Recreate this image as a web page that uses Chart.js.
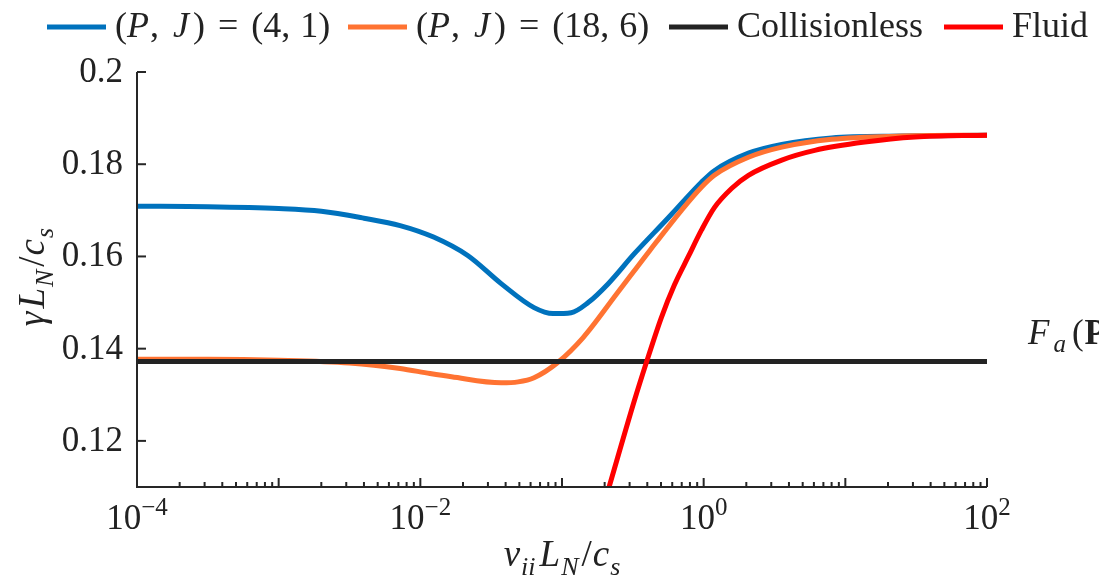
<!DOCTYPE html>
<html>
<head>
<meta charset="utf-8">
<script src="https://cdn.jsdelivr.net/npm/chart.js@4.4.1/dist/chart.umd.min.js"></script>
<style>
  html, body { margin: 0; padding: 0; background: #ffffff; overflow: hidden; }
  #wrap { width: 1099px; height: 583px; position: relative; }
</style>
</head>
<body>
<div id="wrap"><canvas id="growth" width="1099" height="583"></canvas></div>
<script>
// Normalised collision frequency nu_ii L_N / c_s and growth rate gamma L_N / c_s

// (P, J) = (4, 1)
const nuPJ41 = [1e-4, 3.16e-4, 1e-3, 2e-3, 4e-3, 7.2e-3, 0.0124, 0.0216, 0.0372, 0.0635, 0.0865, 0.116, 0.153, 0.212, 0.324, 0.563, 0.697, 0.964, 1.19, 2.07, 3.56, 8.0, 25, 100];
const gammaPJ41 = [0.1709, 0.1708, 0.1704, 0.1698, 0.1683, 0.1667, 0.1642, 0.1602, 0.1541, 0.1489, 0.1476, 0.1478, 0.1500, 0.1541, 0.1606, 0.1684, 0.1715, 0.1761, 0.1786, 0.1824, 0.1843, 0.1857, 0.1861, 0.1863];

// (P, J) = (18, 6)
const nuPJ186 = [1e-4, 3.16e-4, 1e-3, 3.16e-3, 7.2e-3, 0.0117, 0.0166, 0.0372, 0.049, 0.0635, 0.0933, 0.141, 0.245, 0.417, 0.697, 0.964, 1.19, 2.07, 3.56, 8.0, 25, 100];
const gammaPJ186 = [0.1377, 0.1377, 0.1375, 0.1369, 0.1357, 0.1346, 0.1339, 0.1326, 0.1328, 0.1337, 0.1370, 0.1424, 0.1520, 0.1613, 0.1700, 0.1750, 0.1776, 0.1815, 0.1837, 0.1854, 0.1861, 0.1863];

// Collisionless limit
const nuCollisionless = [1e-4, 100];
const gammaCollisionless = [0.1372, 0.1372];

// Fluid model
const nuFluid = [0.215, 0.324, 0.394, 0.502, 0.621, 0.78, 0.964, 1.19, 1.58, 2.07, 3.56, 6.08, 13.7, 31, 100];
const gammaFluid = [0.1100, 0.1287, 0.1370, 0.1467, 0.1538, 0.1600, 0.1657, 0.1706, 0.1748, 0.1776, 0.1809, 0.1830, 0.1848, 0.1859, 0.1863];

const seriesNames = ['(P, J) = (4, 1)', '(P, J) = (18, 6)', 'Collisionless', 'Fluid'];
const seriesColors = ['#0072BD', '#FF7332', '#232323', '#FF0000'];

// Axis ticks
const yTicks = [0.12, 0.14, 0.16, 0.18, 0.2];
const yTickLabels = ['0.12', '0.14', '0.16', '0.18', '0.2'];
const xDecades = [-4, -3, -2, -1, 0, 1, 2];
const xLabelledExponents = [-4, -2, 0, 2];

const SERIF = '"Liberation Serif", "Times New Roman", serif';
const AXIS_COLOR = '#262626';
const TEXT_COLOR = '#222222';

function toPoints(xs, ys) { return xs.map((x, i) => ({ x: x, y: ys[i] })); }

// Draws a run of text pieces: [text, style('n'|'i'|'b'), position(0 | -1 sub | 1 sup), extra advance]
function drawRich(ctx, segs, x, y, align, size) {
  const small = Math.round(size * 0.7);
  let total = 0;
  const parts = segs.map(s => {
    const t = s[0], st = s[1] || 'n', pos = s[2] || 0;
    const fs = pos ? small : size;
    const font = (st === 'i' ? 'italic ' : st === 'b' ? 'bold ' : '') + fs + 'px ' + SERIF;
    ctx.font = font;
    const w = ctx.measureText(t).width + (s[3] || 0);
    total += w;
    return { t, font, w, dy: pos === -1 ? size * 0.24 : pos === 1 ? -size * 0.4 : 0 };
  });
  let cx = align === 'center' ? x - total / 2 : align === 'right' ? x - total : x;
  ctx.textAlign = 'left';
  ctx.textBaseline = 'alphabetic';
  parts.forEach(p => { ctx.font = p.font; ctx.fillText(p.t, cx, y + p.dy); cx += p.w; });
  return total;
}

const legendRich = [
  [['(', 'n'], ['P', 'i', 0, 1], [',', 'n', 0, 14], ['J', 'i', 0, 4], [')', 'n', 0, 13], ['=', 'n', 0, 13], ['(4,', 'n', 0, 10], ['1)', 'n']],
  [['(', 'n'], ['P', 'i', 0, 1], [',', 'n', 0, 14], ['J', 'i', 0, 4], [')', 'n', 0, 13], ['=', 'n', 0, 13], ['(18,', 'n', 0, 10], ['6)', 'n']],
  [['Collisionless', 'n']],
  [['Fluid', 'n']]
];

const decorations = {
  id: 'decorations',
  afterDraw(chart) {
    const ctx = chart.ctx;
    const xs = chart.scales.x, ys = chart.scales.y;
    const area = chart.chartArea;
    ctx.save();

    // axis lines (left and bottom only)
    ctx.strokeStyle = AXIS_COLOR;
    ctx.lineWidth = 2;
    ctx.lineCap = 'butt';
    ctx.beginPath();
    ctx.moveTo(area.left, area.top);
    ctx.lineTo(area.left, area.bottom);
    ctx.lineTo(area.right, area.bottom);
    ctx.stroke();

    // y ticks pointing inward + labels
    ctx.fillStyle = TEXT_COLOR;
    yTicks.forEach((v, i) => {
      const py = ys.getPixelForValue(v);
      ctx.beginPath();
      ctx.moveTo(area.left, py);
      ctx.lineTo(area.left + 9, py);
      ctx.stroke();
      ctx.font = '35px ' + SERIF;
      ctx.textAlign = 'right';
      ctx.textBaseline = 'alphabetic';
      ctx.fillText(yTickLabels[i], area.left - 14, py + 10);
    });

    // x ticks: majors at each decade, minors at 2..9
    xDecades.forEach(e => {
      const base = Math.pow(10, e);
      const px = xs.getPixelForValue(base);
      ctx.beginPath();
      ctx.moveTo(px, area.bottom);
      ctx.lineTo(px, area.bottom - 9);
      ctx.stroke();
      if (e < 2) {
        for (let m = 2; m <= 9; m++) {
          const pm = xs.getPixelForValue(m * base);
          ctx.beginPath();
          ctx.moveTo(pm, area.bottom);
          ctx.lineTo(pm, area.bottom - 5);
          ctx.stroke();
        }
      }
    });
    xLabelledExponents.forEach(e => {
      const px = xs.getPixelForValue(Math.pow(10, e));
      const exp = e < 0 ? '\u2212' + Math.abs(e) : String(e);
      drawRich(ctx, [['10', 'n'], [exp, 'n', 1]], px, area.bottom + 42, 'center', 35);
    });

    // axis titles
    drawRich(ctx, [['\u03BD', 'i', 0, 1], ['ii', 'i', -1, 4], ['L', 'i', 0, 1], ['N', 'i', -1, 3], ['/', 'n', 0, 1], ['c', 'i', 0, 1], ['s', 'i', -1]],
      area.left + (area.right - area.left) / 2, 566, 'center', 37);
    ctx.save();
    ctx.translate(44, 277);
    ctx.rotate(-Math.PI / 2);
    drawRich(ctx, [['\u03B3', 'i', 0, 3], ['L', 'i', 0, 1], ['N', 'i', -1, 3], ['/', 'n', 0, 1], ['c', 'i', 0, 1], ['s', 'i', -1]], 0, 0, 'center', 37);
    ctx.restore();

    // side annotation
    drawRich(ctx, [['F', 'i', 0, 4], ['a', 'i', -1, 6], ['(', 'n', 0, 1], ['P', 'b']], 1028, 344, 'left', 35);

    // legend across the top
    const legendX = [47, 348, 669, 944];
    legendX.forEach((lx, i) => {
      ctx.strokeStyle = seriesColors[i];
      ctx.lineWidth = 5;
      ctx.beginPath();
      ctx.moveTo(lx, 27);
      ctx.lineTo(lx + 59, 27);
      ctx.stroke();
      ctx.fillStyle = TEXT_COLOR;
      drawRich(ctx, legendRich[i], lx + 68, 37, 'left', 36);
    });

    ctx.restore();
  }
};

const lineStyle = { borderWidth: 5, pointRadius: 0, pointHoverRadius: 0, cubicInterpolationMode: 'monotone', fill: false };

new Chart(document.getElementById('growth'), {
  type: 'line',
  data: {
    datasets: [
      Object.assign({ label: seriesNames[0], data: toPoints(nuPJ41, gammaPJ41), borderColor: seriesColors[0], order: 4 }, lineStyle),
      Object.assign({ label: seriesNames[1], data: toPoints(nuPJ186, gammaPJ186), borderColor: seriesColors[1], order: 3 }, lineStyle),
      Object.assign({ label: seriesNames[2], data: toPoints(nuCollisionless, gammaCollisionless), borderColor: seriesColors[2], order: 2 }, lineStyle),
      Object.assign({ label: seriesNames[3], data: toPoints(nuFluid, gammaFluid), borderColor: seriesColors[3], order: 1 }, lineStyle)
    ]
  },
  options: {
    responsive: false,
    animation: false,
    devicePixelRatio: 1,
    layout: { padding: { left: 0, right: 112, top: 72, bottom: 0 } },
    plugins: { legend: { display: false }, tooltip: { enabled: false } },
    scales: {
      x: {
        type: 'logarithmic', min: 1e-4, max: 100,
        grid: { display: false }, border: { display: false },
        ticks: { display: false },
        afterFit(scale) { scale.height = 96; }
      },
      y: {
        type: 'linear', min: 0.11, max: 0.2,
        grid: { display: false }, border: { display: false },
        ticks: { display: false },
        afterFit(scale) { scale.width = 137; }
      }
    }
  },
  plugins: [decorations]
});
</script>
</body>
</html>
